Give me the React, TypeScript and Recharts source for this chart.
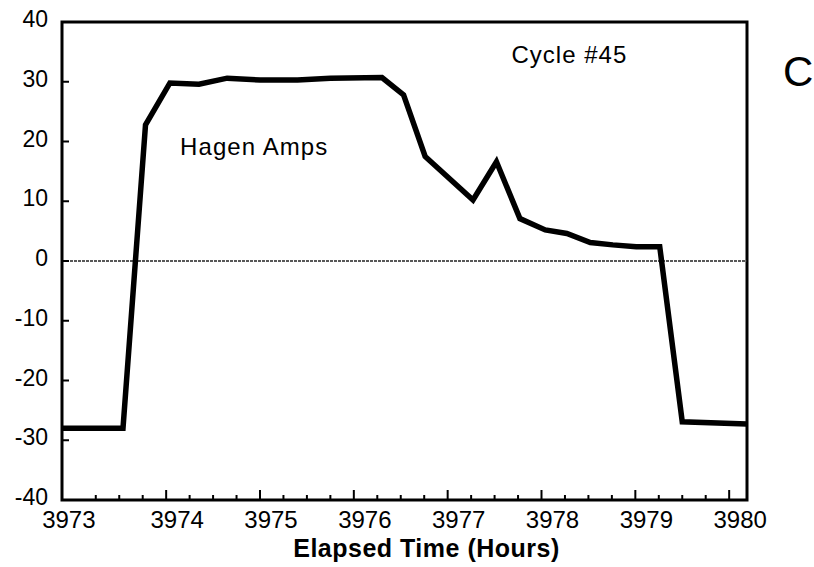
import React from "react";
import { LineChart, Line, XAxis, YAxis, ReferenceLine, ReferenceArea } from "recharts";

const hours = [3972.89, 3973.54, 3973.78, 3974.04, 3974.35, 3974.65, 3975.0, 3975.4, 3975.75, 3976.3, 3976.53, 3976.76, 3977.27, 3977.52, 3977.77, 3978.04, 3978.27, 3978.52, 3978.76, 3979.01, 3979.26, 3979.5, 3980.19];
const amps = [-28.0, -28.0, 22.8, 29.8, 29.6, 30.6, 30.3, 30.3, 30.6, 30.7, 27.8, 17.5, 10.2, 16.6, 7.1, 5.2, 4.6, 3.1, 2.7, 2.4, 2.4, -26.9, -27.3];

const xLabels = [3973, 3974, 3975, 3976, 3977, 3978, 3979, 3980];
const yLabels = [-40, -30, -20, -10, 0, 10, 20, 30, 40];
const xDomain: [number, number] = [3972.89, 3980.19];
const yDomain: [number, number] = [-40, 40];

const data = hours.map((h, i) => ({ h, v: amps[i] }));

// quarter-hour tick marks between labelled hours
const xTicks: number[] = [];
xLabels.forEach((h, i) => {
  xTicks.push(h);
  if (i < xLabels.length - 1) {
    xTicks.push(h + 0.25, h + 0.5, h + 0.75);
  }
});

const FONT = "'Liberation Sans', Arial, Helvetica, sans-serif";

const XTick = (props: any) => {
  const { x, y, payload } = props;
  const value = payload.value as number;
  const isMajor = Number.isInteger(value);
  const first = value === xLabels[0];
  return (
    <g>
      {!first && (
        <line x1={x} y1={y} x2={x} y2={y - (isMajor ? 10 : 5)} stroke="#000" strokeWidth={2} />
      )}
      {isMajor && (
        <text x={x + (first ? -3.5 : 11)} y={y + 28} textAnchor="middle" fontSize={24} fontFamily={FONT} fill="#000">
          {value}
        </text>
      )}
    </g>
  );
};

const YTick = (props: any) => {
  const { x, y, payload } = props;
  const value = payload.value as number;
  const edge = value === yDomain[0] || value === yDomain[1];
  return (
    <g>
      {!edge && <line x1={x} y1={y} x2={x + 7} y2={y} stroke="#000" strokeWidth={2} />}
      <text x={x - 14} y={y + 5} textAnchor="end" fontSize={23} fontFamily={FONT} fill="#000">
        {value}
      </text>
    </g>
  );
};

export default function App() {
  return (
    <div style={{ position: "absolute", left: 0, top: 0, width: 814, height: 567, background: "#fff" }}>
      <LineChart
        width={814}
        height={567}
        data={data}
        margin={{ top: 22, right: 67, bottom: 0, left: 0 }}
      >
        <XAxis
          dataKey="h"
          type="number"
          domain={xDomain}
          allowDataOverflow
          ticks={xTicks}
          interval={0}
          tickSize={0}
          tickMargin={0}
          tickLine={false}
          axisLine={false}
          height={67}
          tick={<XTick />}
        />
        <YAxis
          type="number"
          domain={yDomain}
          allowDataOverflow
          ticks={yLabels}
          interval={0}
          tickSize={0}
          tickMargin={0}
          tickLine={false}
          axisLine={false}
          width={62}
          tick={<YTick />}
        />
        <ReferenceLine y={0} stroke="#222" strokeWidth={1.6} strokeDasharray="3 1" />
        <ReferenceArea
          x1={xDomain[0]}
          x2={xDomain[1]}
          y1={yDomain[0]}
          y2={yDomain[1]}
          fill="none"
          fillOpacity={0}
          stroke="#000"
          strokeWidth={3}
          ifOverflow="visible"
        />
        <Line
          type="linear"
          dataKey="v"
          stroke="#000"
          strokeWidth={5.5}
          dot={false}
          activeDot={false}
          isAnimationActive={false}
          strokeLinejoin="miter"
        />
      </LineChart>
      <svg
        width={814}
        height={567}
        style={{ position: "absolute", left: 0, top: 0, pointerEvents: "none" }}
      >
        <text x={511.5} y={62.5} fontSize={24} letterSpacing={1} fontFamily={FONT} fill="#000">
          Cycle #45
        </text>
        <text x={180} y={155} fontSize={24} letterSpacing={1.1} fontFamily={FONT} fill="#000">
          Hagen Amps
        </text>
        <text x={783} y={86} fontSize={42} fontFamily={FONT} fill="#000">
          C
        </text>
        <text x={426.5} y={556.5} textAnchor="middle" fontSize={25} fontWeight="bold" letterSpacing={0.5} fontFamily={FONT} fill="#000">
          Elapsed Time (Hours)
        </text>
      </svg>
    </div>
  );
}
